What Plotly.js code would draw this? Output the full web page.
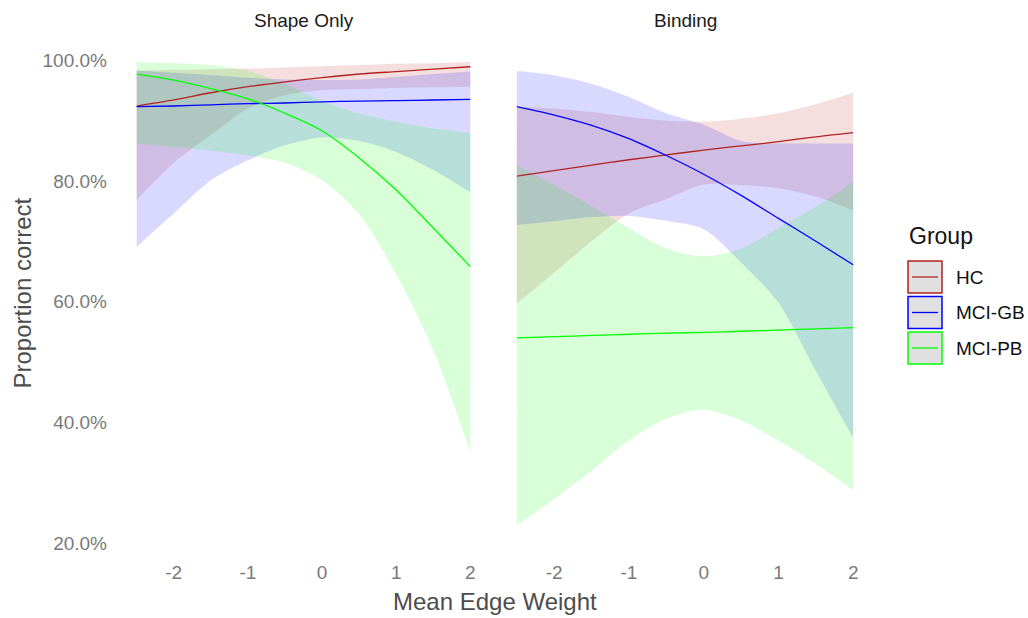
<!DOCTYPE html>
<html>
<head>
<meta charset="utf-8">
<script src="https://cdn.plot.ly/plotly-3.0.1.min.js"></script>
<style>html,body{margin:0;padding:0;background:#fff;}</style>
</head>
<body>
<div id="chart" style="width:1028px;height:618px;"></div>
<script>
// ---------- data ----------
const xVals = [-2.5, -2, -1.5, -1, -0.5, 0, 0.5, 1, 1.5, 2];
const groups = ["HC", "MCI-GB", "MCI-PB"];
const panels = ["Shape Only", "Binding"];
const xTicks = [-2, -1, 0, 1, 2];
const yTicks = [20, 40, 60, 80, 100];

// Shape Only panel (percent correct)
const shapeHC_fit = [92.4, 93.4, 94.6, 95.6, 96.4, 97.1, 97.7, 98.1, 98.5, 98.9];
const shapeHC_lo  = [76.8, 83.0, 87.6, 92.0, 94.2, 95.0, 95.2, 95.4, 95.5, 95.6];
const shapeHC_hi  = [98.3, 98.4, 98.5, 98.6, 98.8, 99.0, 99.2, 99.4, 99.5, 99.7];
const shapeGB_fit = [92.3, 92.4, 92.6, 92.8, 92.9, 93.1, 93.2, 93.3, 93.4, 93.5];
const shapeGB_lo  = [69.1, 74.6, 80.1, 83.4, 85.9, 87.2, 86.6, 84.8, 81.8, 78.1];
const shapeGB_hi  = [98.3, 97.9, 97.5, 97.1, 96.8, 96.7, 96.8, 97.2, 97.7, 98.1];
const shapePB_fit = [97.7, 96.7, 95.3, 93.6, 91.2, 88.3, 83.8, 78.5, 72.2, 65.8];
const shapePB_lo  = [86.2, 85.6, 85.0, 84.2, 83.0, 80.1, 74.5, 64.5, 52.0, 35.0];
const shapePB_hi  = [99.7, 99.5, 99.2, 98.2, 96.0, 93.2, 91.2, 89.8, 88.7, 87.9];

// Binding panel
const bindHC_fit = [80.8, 81.7, 82.6, 83.5, 84.3, 85.1, 85.8, 86.5, 87.3, 88.0];
const bindHC_lo  = [59.7, 64.8, 70.0, 74.6, 77.0, 79.4, 79.3, 78.8, 77.4, 75.1];
const bindHC_hi  = [92.3, 92.0, 91.4, 90.6, 90.0, 89.8, 90.3, 91.2, 92.7, 94.6];
const bindGB_fit = [92.3, 90.9, 89.2, 87.0, 84.2, 81.1, 77.6, 73.8, 70.0, 66.1];
const bindGB_lo  = [72.7, 73.3, 74.0, 74.2, 73.4, 72.0, 66.5, 59.8, 48.5, 37.4];
const bindGB_hi  = [98.2, 97.5, 96.1, 93.9, 91.2, 89.3, 86.6, 86.2, 86.2, 86.2];
const bindPB_fit = [54.0, 54.2, 54.4, 54.6, 54.8, 54.9, 55.1, 55.3, 55.5, 55.7];
const bindPB_lo  = [23.0, 27.3, 32.0, 37.0, 40.6, 42.1, 40.3, 37.0, 33.1, 28.8];
const bindPB_hi  = [82.6, 79.3, 75.8, 72.2, 68.8, 67.5, 68.8, 72.2, 75.7, 79.8];

// ---------- styling ----------
const lineColors = {"HC": "#B22222", "MCI-GB": "#0000FF", "MCI-PB": "#00FF00"};
const fillColors = {"HC": "rgba(178,34,34,0.15)", "MCI-GB": "rgba(0,0,255,0.15)", "MCI-PB": "rgba(0,255,0,0.15)"};
const FONT = "Liberation Sans, Arial, sans-serif";

const panelData = [
  {xa: "x", ya: "y", series: {
    "HC": [shapeHC_fit, shapeHC_lo, shapeHC_hi],
    "MCI-GB": [shapeGB_fit, shapeGB_lo, shapeGB_hi],
    "MCI-PB": [shapePB_fit, shapePB_lo, shapePB_hi]}},
  {xa: "x2", ya: "y2", series: {
    "HC": [bindHC_fit, bindHC_lo, bindHC_hi],
    "MCI-GB": [bindGB_fit, bindGB_lo, bindGB_hi],
    "MCI-PB": [bindPB_fit, bindPB_lo, bindPB_hi]}}
];

const traces = [];
panelData.forEach(p => {
  groups.forEach(g => {
    const [fit, lo, hi] = p.series[g];
    traces.push({x: xVals, y: lo, xaxis: p.xa, yaxis: p.ya, mode: "lines",
      line: {width: 0, shape: "spline", smoothing: 0.8}, showlegend: false, hoverinfo: "skip"});
    traces.push({x: xVals, y: hi, xaxis: p.xa, yaxis: p.ya, mode: "lines", fill: "tonexty",
      fillcolor: fillColors[g], line: {width: 0, shape: "spline", smoothing: 0.8},
      showlegend: false, hoverinfo: "skip"});
  });
});
panelData.forEach(p => {
  groups.forEach(g => {
    traces.push({x: xVals, y: p.series[g][0], xaxis: p.xa, yaxis: p.ya, mode: "lines", name: g,
      line: {color: lineColors[g], width: 1.3, shape: "spline", smoothing: 0.8}, showlegend: false});
  });
});

// pixel -> paper helpers (plot area 120..870 x 39..548)
const L = 120, R = 870, T = 39, B = 548;
const px = v => (v - L) / (R - L);
const py = v => (B - v) / (B - T);

const xAxisBase = {range: [-2.725, 2.225], tickvals: xTicks, ticktext: xTicks.map(String),
  showgrid: false, zeroline: false, showline: false, ticks: "", ticklabelstandoff: 11,
  tickfont: {family: FONT, size: 19, color: "#7a7a7a"}};
const yAxisBase = {range: [19.2, 103.5], tickvals: yTicks, ticktext: yTicks.map(v => v.toFixed(1) + "%"),
  showgrid: false, zeroline: false, showline: false, ticks: "",
  tickfont: {family: FONT, size: 19, color: "#7a7a7a"}};

const shapes = [];
const annotations = [
  {text: "Shape Only", xref: "x domain", yref: "paper", x: 0.5, y: py(20), showarrow: false,
   xanchor: "center", yanchor: "middle", font: {family: FONT, size: 19, color: "#1a1a1a"}},
  {text: "Binding", xref: "x2 domain", yref: "paper", x: 0.5, y: py(20), showarrow: false,
   xanchor: "center", yanchor: "middle", font: {family: FONT, size: 19, color: "#1a1a1a"}},
  {text: "Mean Edge Weight", xref: "paper", yref: "paper", x: 0.5, y: py(601), showarrow: false,
   xanchor: "center", yanchor: "middle", font: {family: FONT, size: 24, color: "#4d4d4d"}},
  {text: "Proportion correct", xref: "paper", yref: "paper", x: px(22), y: 0.5, showarrow: false,
   textangle: -90, xanchor: "center", yanchor: "middle", font: {family: FONT, size: 24, color: "#4d4d4d"}},
  {text: "Group", xref: "paper", yref: "paper", x: px(907), y: py(236), showarrow: false,
   xanchor: "left", yanchor: "middle", font: {family: FONT, size: 23, color: "#111"}}
];
groups.forEach((g, i) => {
  const top = 261 + i * 35.5, bot = top + 32, mid = (top + bot) / 2;
  shapes.push({type: "rect", xref: "paper", yref: "paper", x0: px(908), x1: px(942), y0: py(bot), y1: py(top),
    fillcolor: "#e0e0e0", line: {color: lineColors[g], width: 1.5}});
  shapes.push({type: "line", xref: "paper", yref: "paper", x0: px(912), x1: px(938), y0: py(mid), y1: py(mid),
    line: {color: lineColors[g], width: 1.3}});
  annotations.push({text: g, xref: "paper", yref: "paper", x: px(954), y: py(mid), showarrow: false,
    xanchor: "left", yanchor: "middle", font: {family: FONT, size: 19, color: "#111"}});
});

const layout = {
  width: 1028, height: 618,
  margin: {l: L, r: 1028 - R, t: T, b: 618 - B, pad: 0},
  paper_bgcolor: "#ffffff", plot_bgcolor: "#ffffff",
  showlegend: false,
  xaxis: Object.assign({}, xAxisBase, {domain: [0, px(487)], anchor: "y"}),
  xaxis2: Object.assign({}, xAxisBase, {domain: [px(500), 1], anchor: "y2"}),
  yaxis: Object.assign({}, yAxisBase, {domain: [0, 1], anchor: "x", ticklabelstandoff: 12}),
  yaxis2: Object.assign({}, yAxisBase, {domain: [0, 1], anchor: "x2", showticklabels: false}),
  shapes: shapes,
  annotations: annotations
};

Plotly.newPlot("chart", traces, layout, {displayModeBar: false, staticPlot: true});
</script>
</body>
</html>
